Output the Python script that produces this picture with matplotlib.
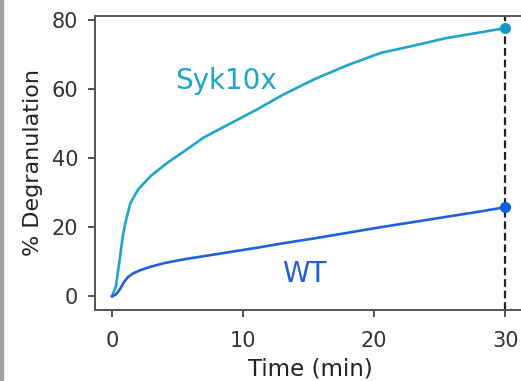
import matplotlib
matplotlib.use("Agg")
from matplotlib import pyplot as plt
from matplotlib.patches import Rectangle

# values
syk_t = [0, 0.3, 0.6, 0.8, 1.0, 1.4, 2.0, 3.0, 4.2, 5.5, 7, 9, 11, 13, 15.5, 18, 20.5, 23, 25.5, 28, 30]
syk_y = [0, 3, 11, 17, 21, 27, 31, 35, 38.6, 42, 46, 50, 54, 58.3, 63, 67, 70.5, 72.6, 74.8, 76.4, 77.7]
wt_t = [0, 0.3, 0.6, 0.9, 1.2, 1.6, 2.2, 3, 4, 5.5, 7, 9, 11, 13, 15.5, 18, 20.5, 23, 25.5, 28, 30]
wt_y = [0, 0.5, 2, 4, 5.5, 6.6, 7.6, 8.6, 9.6, 10.7, 11.6, 12.8, 14, 15.3, 16.8, 18.4, 20, 21.5, 23, 24.5, 25.8]
x_ticks = [0, 10, 20, 30]
y_ticks = [0, 20, 40, 60, 80]

syk_col = "#1ea5c8"
wt_col = "#1f60d8"

fig = plt.figure(figsize=(5.21, 3.81), dpi=100)
ax = fig.add_axes([95/521, 71/381, 430/521, 294/381])

ax.plot(syk_t, syk_y, color=syk_col, lw=1.9, zorder=3)
ax.plot(wt_t, wt_y, color=wt_col, lw=1.9, zorder=3)
ax.plot(syk_t[-1], syk_y[-1], "o", color="#1797c4", ms=7, zorder=4)
ax.plot(wt_t[-1], wt_y[-1], "o", color="#0a5ee0", ms=7, zorder=4)
ax.axvline(30, color="#222222", lw=1.6, dashes=(3.5, 1.7), zorder=2)

ax.text(8.7, 62.3, "Syk10x", color=syk_col, fontsize=20, ha="center", va="center")
ax.text(14.7, 6.4, "WT", color=wt_col, fontsize=20, ha="center", va="center")

ax.set_xlim(-1.3, 31.5)
ax.set_ylim(-4, 81.2)
ax.set_xticks(x_ticks)
ax.set_yticks(y_ticks)
ax.tick_params(labelsize=15, colors="#333333", length=5, width=1.2)
ax.tick_params(axis="x", pad=10)
ax.tick_params(axis="y", pad=7)
for s in ax.spines.values():
    s.set_color("#555555")
    s.set_linewidth(1.4)
ax.spines["right"].set_visible(False)

ax.set_xlabel("Time (min)", fontsize=16.5, color="#222222", labelpad=5)
ax.set_ylabel("% Degranulation", fontsize=16, color="#222222", labelpad=6)

# gray strip at the left edge of the picture
fig.patches.append(Rectangle((0, 0), 3/521, 1, transform=fig.transFigure, color="#a0a0a0", zorder=0))

fig.savefig("out.png", dpi=100)
